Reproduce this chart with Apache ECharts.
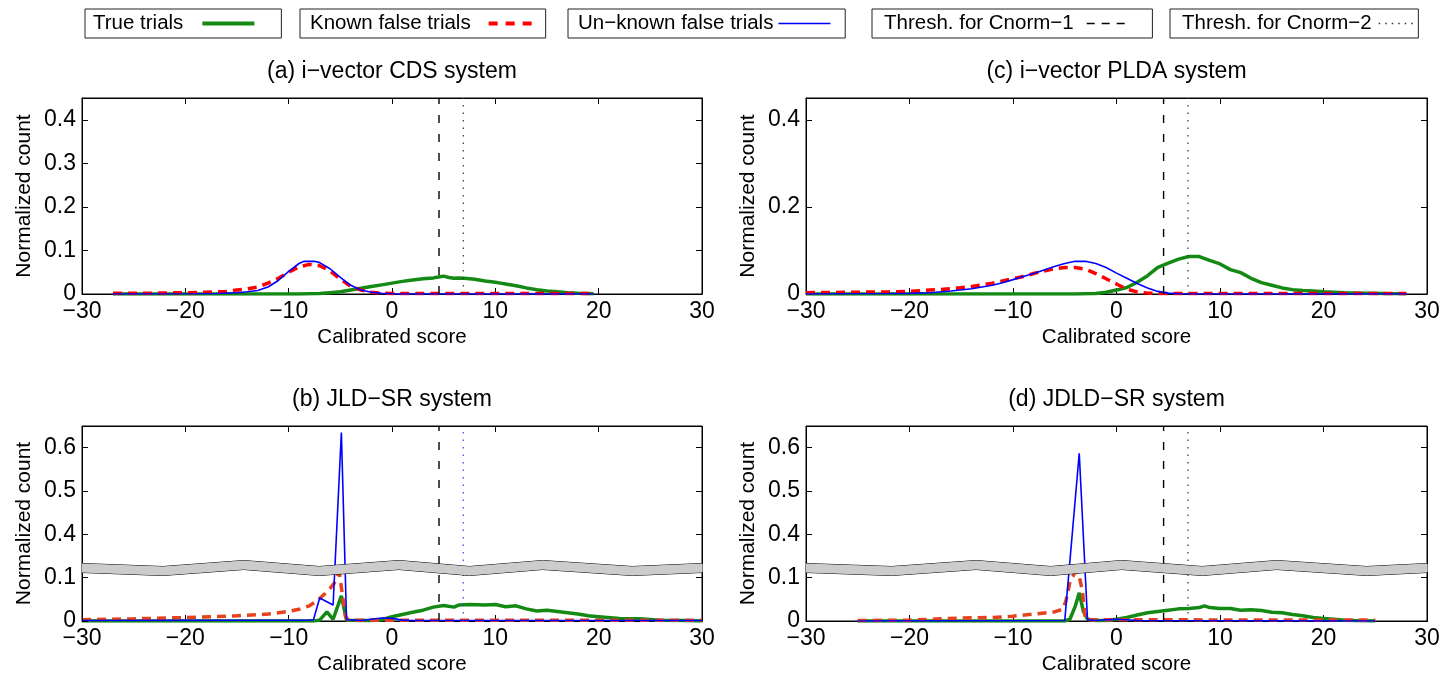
<!DOCTYPE html>
<html>
<head>
<meta charset="utf-8">
<script src="https://cdn.jsdelivr.net/npm/echarts@6/dist/echarts.min.js"></script>
<style>
  html, body { margin: 0; padding: 0; background: #fff; }
  #chart { width: 1447px; height: 678px; }
</style>
</head>
<body>
<div id="chart"></div>
<script>
// ---- tick labels ----
const xTicks = [-30, -20, -10, 0, 10, 20, 30];
const yTicksA = [0, 0.1, 0.2, 0.3, 0.4];
const yTicksC = [0, 0.2, 0.4];
const yTicksBroken = [0, 0.1, 0.4, 0.5, 0.6];

// ---- decision thresholds (calibrated score) ----
const thresholds = [4.55, 6.9];

// ---- (a) i-vector CDS system: [score, normalized count] ----
const trueA = [[-27,0],[-9,0],[-8,0.0005],[-7,0.001],[-6,0.003],[-5,0.005],[-4,0.009],[-3,0.013],[-2,0.017],[-1,0.021],[0,0.025],[1,0.029],[2,0.032],[3,0.035],[4,0.037],[4.5,0.039],[5,0.041],[5.5,0.038],[6,0.036],[6.5,0.037],[7,0.036],[7.5,0.035],[8,0.034],[9,0.03],[10,0.027],[10.5,0.025],[11,0.023],[12,0.019],[13,0.014],[14,0.01],[15,0.007],[16,0.005],[17,0.003],[18,0.0015],[19.5,0.0005]];
const knownA = [[-27,0.002],[-23,0.002],[-20,0.003],[-18,0.004],[-16,0.006],[-15,0.009],[-14,0.012],[-13,0.016],[-12,0.025],[-11,0.036],[-10,0.05],[-9,0.062],[-8,0.068],[-7,0.065],[-6,0.053],[-5,0.034],[-4,0.018],[-3,0.009],[-2,0.004],[-1,0.002],[0,0.001],[19.5,0.001]];
const unknownA = [[-27,0],[-19,0.0005],[-17,0.001],[-15,0.003],[-14,0.005],[-13,0.008],[-12,0.016],[-11,0.031],[-10,0.052],[-9,0.07],[-8.5,0.075],[-7.5,0.075],[-7,0.072],[-6,0.058],[-5,0.038],[-4,0.02],[-3,0.009],[-2,0.004],[-1,0.0015],[0,0.0005],[1,0],[19.5,0]];

// ---- (c) i-vector PLDA system ----
const trueC = [[-30,0],[-4,0],[-3,0.0005],[-2,0.001],[-1,0.004],[0,0.009],[1,0.015],[2,0.027],[3,0.042],[4,0.061],[5,0.071],[6,0.08],[7,0.086],[8,0.086],[9,0.077],[10,0.069],[11,0.056],[12,0.049],[13,0.036],[14,0.026],[15,0.02],[16,0.014],[17,0.01],[18,0.008],[19,0.007],[20,0.005],[22,0.003],[24,0.002],[26,0.001],[28,0.0005]];
const knownC = [[-30,0.003],[-26,0.004],[-22,0.005],[-20,0.006],[-18,0.009],[-16,0.012],[-14,0.017],[-12,0.025],[-11,0.03],[-10,0.035],[-9,0.04],[-8,0.047],[-7,0.053],[-6,0.058],[-5,0.061],[-4,0.061],[-3,0.057],[-2,0.047],[-1,0.035],[0,0.023],[1,0.011],[2,0.005],[3,0.002],[4,0.001],[28,0.001]];
const unknownC = [[-30,0],[-26,0.0005],[-22,0.001],[-20,0.0015],[-18,0.003],[-16,0.007],[-14,0.012],[-12,0.02],[-11,0.026],[-10,0.033],[-9,0.04],[-8,0.047],[-7,0.055],[-6,0.063],[-5,0.07],[-4,0.075],[-3,0.075],[-2,0.07],[-1,0.061],[0,0.048],[1,0.036],[2,0.024],[3,0.014],[4,0.006],[5,0.002],[6,0.0005],[7,0],[28,0]];

// ---- (b) JLD-SR system ----
const trueB = [[-30,0],[-7.6,0],[-7,0.002],[-6.3,0.021],[-5.7,0.004],[-4.9,0.058],[-4.4,0.002],[-3,0.001],[-2,0.001],[-1,0.003],[0,0.01],[1,0.015],[2,0.02],[3,0.025],[4,0.032],[5,0.036],[6,0.032],[6.5,0.037],[7.5,0.038],[9,0.037],[10,0.038],[11,0.033],[12,0.035],[13,0.028],[14,0.023],[15,0.025],[16,0.022],[17,0.019],[18,0.016],[19,0.012],[20,0.01],[22,0.006],[24,0.005],[26,0.002],[28,0.001],[30,0]];
const knownB = [[-30,0.003],[-25,0.005],[-20,0.008],[-15,0.012],[-12,0.016],[-10,0.022],[-9,0.027],[-8,0.035],[-7.2,0.047],[-6.5,0.063],[-6,0.075],[-5.6,0.087],[-5.1,0.114],[-4.5,0.01],[-4.2,0.002],[30,0.002]];
const unknownB = [[-30,0.001],[-8,0.002],[-7.6,0.003],[-7,0.053],[-5.7,0.037],[-4.9,0.635],[-4.4,0.003],[-3,0.001],[-2,0.004],[-1,0.007],[0,0.006],[1,0.002],[2,0.001],[30,0.001]];

// ---- (d) JDLD-SR system ----
const trueD = [[-25,0],[-5,0],[-4.5,0.004],[-4,0.033],[-3.6,0.065],[-3.2,0.022],[-2.8,0.004],[-2,0.001],[-1,0.001],[0,0.004],[1,0.008],[2,0.014],[3,0.019],[4,0.022],[5,0.025],[6,0.028],[7,0.029],[8,0.031],[8.5,0.035],[9,0.031],[10,0.029],[11,0.029],[12,0.025],[13,0.026],[14,0.024],[15,0.02],[16,0.019],[17,0.015],[18,0.012],[19,0.008],[20,0.006],[21,0.004],[22,0.002],[23,0.001],[25,0]];
const knownD = [[-25,0.001],[-20,0.002],[-17,0.005],[-15,0.007],[-12,0.008],[-10,0.011],[-8,0.016],[-6,0.021],[-5.2,0.027],[-4.9,0.045],[-4.5,0.09],[-4,0.118],[-3.7,0.13],[-3.3,0.07],[-3,0.003],[25,0.002]];
const unknownD = [[-25,0],[-5,0.001],[-4.9,0.002],[-3.6,0.587],[-2.8,0.003],[-2,0.001],[0,0.004],[1,0.003],[2,0.001],[25,0]];

const seriesNames = ['True trials', 'Known false trials', 'Un\u2212known false trials', 'Thresh. for Cnorm\u22121', 'Thresh. for Cnorm\u22122'];

// ---- styling ----
const FONT = '"Liberation Sans", Arial, Helvetica, sans-serif';
const GREEN = '#148a14';
const BLUE = '#0000ff';
const yBreak = { start: 0.112, end: 0.334, gap: 0.022 };

const panels = [
  { title: '(a) i\u2212vector CDS system', box: [82, 98, 620, 196], yMax: 0.45, yTicks: yTicksA, curves: [trueA, knownA, unknownA], red: '#ff0000', dot: '#333333' },
  { title: '(c) i\u2212vector PLDA system', box: [806, 98, 621, 196], yMax: 0.45, yTicks: yTicksC, curves: [trueC, knownC, unknownC], red: '#ff0000', dot: '#333333' },
  { title: '(b) JLD\u2212SR system', box: [82, 426, 620, 195], yMax: 0.65, yTicks: yTicksBroken, broken: true, curves: [trueB, knownB, unknownB], red: '#e6421c', dot: '#3b3bff' },
  { title: '(d) JDLD\u2212SR system', box: [806, 426, 621, 195], yMax: 0.65, yTicks: yTicksBroken, broken: true, curves: [trueD, knownD, unknownD], red: '#e6421c', dot: '#333333' }
];

const axisLine = { show: true, onZero: false, lineStyle: { color: '#000', width: 1 } };
const tickStyle = { show: true, inside: true, length: 6, lineStyle: { color: '#000', width: 1 } };
const minus = v => String(v).replace('-', '\u2212');
const decimal = v => String(Math.round(v * 100) / 100);

const grids = [], xAxes = [], yAxes = [], series = [];

panels.forEach((p, i) => {
  grids.push({ left: p.box[0], top: p.box[1], width: p.box[2], height: p.box[3], show: true, borderColor: '#000', borderWidth: 1, backgroundColor: 'transparent', outerBoundsMode: 'none' });
  const brk = p.broken ? [{ start: yBreak.start, end: yBreak.end, gap: yBreak.gap }] : undefined;

  // bottom axis with labels
  xAxes[i] = {
    type: 'value', gridIndex: i, min: -30, max: 30, interval: 10,
    axisLine, axisTick: Object.assign({ customValues: xTicks }, tickStyle),
    axisLabel: { customValues: xTicks, formatter: minus, fontSize: 23, color: '#000', fontFamily: FONT, margin: 6 },
    splitLine: { show: false },
    name: 'Calibrated score', nameLocation: 'middle', nameGap: 33,
    nameTextStyle: { fontSize: 20.5, color: '#000', fontFamily: FONT }
  };
  // top box edge, carries the panel title
  xAxes[i + 4] = {
    type: 'value', gridIndex: i, position: 'top', min: -30, max: 30, interval: 10,
    axisLine, axisTick: Object.assign({ customValues: xTicks }, tickStyle),
    axisLabel: { show: false }, splitLine: { show: false },
    name: p.title, nameLocation: 'middle', nameGap: 15,
    nameTextStyle: { fontSize: 23, color: '#000', fontFamily: FONT }
  };
  yAxes[i] = {
    type: 'value', gridIndex: i, min: 0, max: p.yMax, interval: 0.1, z: p.broken ? 10 : 0,
    axisLine, axisTick: Object.assign({ customValues: p.yTicks }, tickStyle),
    axisLabel: { customValues: p.yTicks, formatter: decimal, fontSize: 23, color: '#000', fontFamily: FONT, margin: 6 },
    splitLine: { show: false },
    name: 'Normalized count', nameLocation: 'middle', nameGap: 47,
    nameTextStyle: { fontSize: 21, color: '#000', fontFamily: FONT },
    breaks: brk,
    breakArea: {
      show: !!p.broken, expandOnClick: false,
      zigzagAmplitude: 3, zigzagMinSpan: 70, zigzagMaxSpan: 90, zigzagZ: 100,
      itemStyle: { color: '#cccccc', borderColor: '#000', borderWidth: 1, borderType: 'solid', opacity: 1 }
    }
  };
  yAxes[i + 4] = {
    type: 'value', gridIndex: i, position: 'right', min: 0, max: p.yMax, interval: 0.1,
    axisLine, axisTick: Object.assign({ customValues: p.yTicks }, tickStyle),
    axisLabel: { show: false }, splitLine: { show: false },
    breaks: brk, breakArea: { show: false }
  };

  const common = { type: 'line', xAxisIndex: i, yAxisIndex: i, symbol: 'none', showSymbol: false, silent: true, animation: false };
  series.push(Object.assign({ name: seriesNames[0], data: p.curves[0], lineStyle: { color: GREEN, width: 3.5 }, itemStyle: { color: GREEN }, z: 2 }, common));
  series.push(Object.assign({ name: seriesNames[1], data: p.curves[1], lineStyle: { color: p.red, width: 3.5, type: [9, 6] }, itemStyle: { color: p.red }, z: 3 }, common));
  series.push(Object.assign({ name: seriesNames[2], data: p.curves[2], lineStyle: { color: BLUE, width: 1.6 }, itemStyle: { color: BLUE }, z: 4 }, common));
  series.push(Object.assign({ name: seriesNames[3], data: [[thresholds[0], 0], [thresholds[0], p.yMax]], lineStyle: { color: '#000', width: 1.4, type: [8, 11] }, itemStyle: { color: '#000' }, z: 5 }, common));
  series.push(Object.assign({ name: seriesNames[4], data: [[thresholds[1], 0], [thresholds[1], p.yMax]], lineStyle: { color: p.dot, width: 1.2, type: [1.5, 6] }, itemStyle: { color: p.dot }, z: 5 }, common));
});

// one framed legend box per entry, sample line to the right of its text
const legendBoxes = [
  { name: seriesNames[0], left: 85,   padL: 8,  padR: 25, textGap: 14, icon: 52, lw: 4,   dash: 'solid' },
  { name: seriesNames[1], left: 300,  padL: 10, padR: 9,  textGap: 13, icon: 46, lw: 4,   dash: [9, 8] },
  { name: seriesNames[2], left: 568,  padL: 10, padR: 14, textGap: 0,  icon: 52, lw: 1.6, dash: 'solid' },
  { name: seriesNames[3], left: 872,  padL: 12, padR: 25, textGap: 8,  icon: 40, lw: 1.4, dash: [8, 7] },
  { name: seriesNames[4], left: 1170, padL: 12, padR: 1,  textGap: 2,  icon: 38, lw: 1.3, dash: [1.5, 5] }
];

const option = {
  animation: false,
  backgroundColor: '#fff',
  textStyle: { fontFamily: FONT },
  legend: legendBoxes.map(b => ({
    data: [b.name], left: b.left, top: 9, orient: 'horizontal', align: 'right',
    selectedMode: false, itemWidth: b.icon, itemHeight: 20,
    itemStyle: { opacity: 0 },
    lineStyle: { width: b.lw, type: b.dash },
    padding: [4, b.padR, 4, b.padL], borderColor: '#222', borderWidth: 1,
    textStyle: { fontSize: 20.5, color: '#000', fontFamily: FONT, padding: [0, b.textGap, 0, 0] }
  })),
  grid: grids,
  xAxis: xAxes,
  yAxis: yAxes,
  series
};

const chart = echarts.init(document.getElementById('chart'));
chart.setOption(option);
</script>
</body>
</html>
